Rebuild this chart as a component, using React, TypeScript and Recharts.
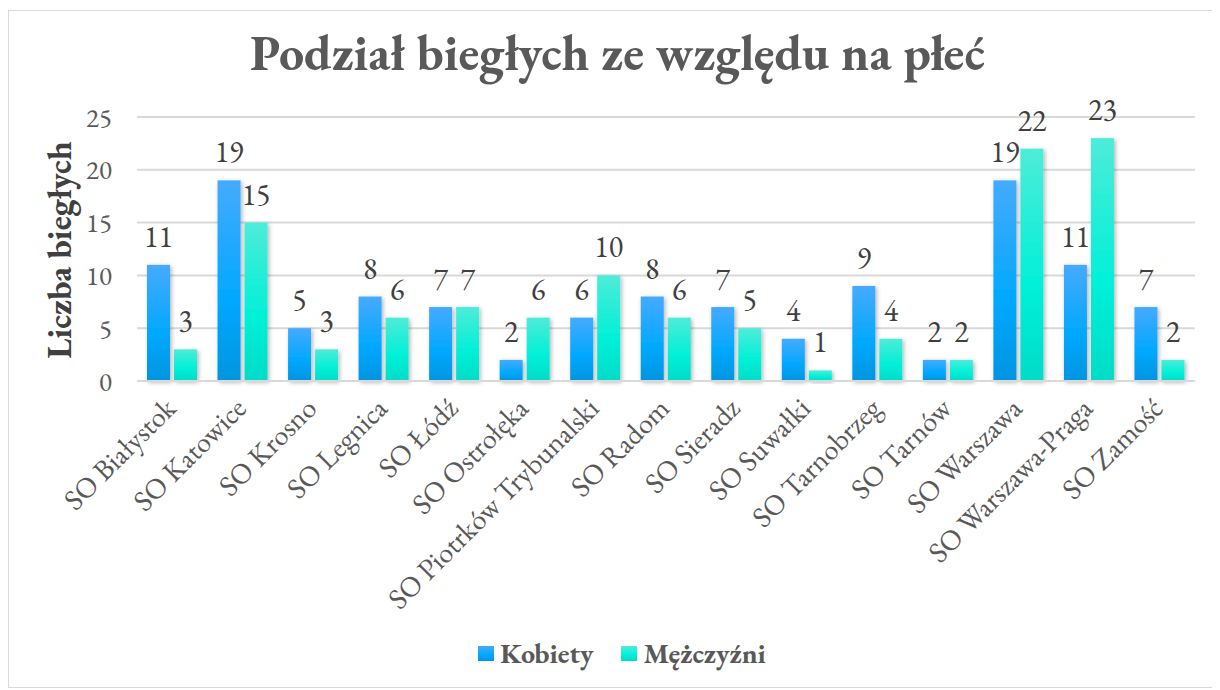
import React from 'react';
import { BarChart, Bar, XAxis, YAxis, CartesianGrid, LabelList, Legend } from 'recharts';

const FONT = '"EB Garamond", "Liberation Serif", serif';

const categories = [
  'SO Białystok',
  'SO Katowice',
  'SO Krosno',
  'SO Legnica',
  'SO Łódź',
  'SO Ostrołęka',
  'SO Piotrków Trybunalski',
  'SO Radom',
  'SO Sieradz',
  'SO Suwałki',
  'SO Tarnobrzeg',
  'SO Tarnów',
  'SO Warszawa',
  'SO Warszawa-Praga',
  'SO Zamość',
];
const kobiety = [11, 19, 5, 8, 7, 2, 6, 8, 7, 4, 9, 2, 19, 11, 7];
const mezczyzni = [3, 15, 3, 6, 7, 6, 10, 6, 5, 1, 4, 2, 22, 23, 2];
const yTicks = [0, 5, 10, 15, 20, 25];
const seriesNames = ['Kobiety', 'Mężczyźni'];
const titleText = 'Podział biegłych ze względu na płeć';
const yAxisTitle = 'Liczba biegłych';

const data = categories.map((name, i) => ({ name, k: kobiety[i], m: mezczyzni[i] }));

const XTick = (props: any) => {
  const { x, y, payload } = props;
  const ax = x + 5;
  const ay = y + 29;
  return (
    <text
      x={ax}
      y={ay}
      transform={`rotate(-45 ${ax} ${ay})`}
      textAnchor="end"
      fontSize={29}
      fill="#595959"
      fontFamily={FONT}
    >
      {payload.value}
    </text>
  );
};

const YLabel = () => (
  <text
    x={62}
    y={239}
    transform="rotate(-90 62 239)"
    textAnchor="middle"
    fontSize={34}
    fontWeight="bold"
    fill="#404040"
    fontFamily={FONT}
  >
    {yAxisTitle}
  </text>
);

const legendGradients = [
  'linear-gradient(#45aaff, #00a8ff 60%, #0095e0)',
  'linear-gradient(#4eecd8, #00f0d8 60%, #00dcc8)',
];

const renderLegend = () => (
  <div
    style={{
      display: 'flex',
      justifyContent: 'center',
      alignItems: 'center',
      height: 40,
      paddingLeft: 40,
      fontFamily: FONT,
    }}
  >
    {seriesNames.map((n, i) => (
      <div key={n} style={{ display: 'flex', alignItems: 'center', marginRight: i === 0 ? 28 : 0 }}>
        <div style={{ width: 16, height: 15, background: legendGradients[i], marginRight: 6 }} />
        <span style={{ fontSize: 28, fontWeight: 'bold', color: '#595959' }}>{n}</span>
      </div>
    ))}
  </div>
);

const BarShape = (grad: string) => (props: any) => {
  const { x, y, width, height } = props;
  if (!height || height <= 0) return null;
  return <rect x={x} y={y} width={width} height={height} fill={`url(#${grad})`} filter="url(#barShadow)" />;
};

export default function App() {
  return (
    <div
      style={{
        position: 'relative',
        marginTop: 2,
        width: 1208,
        height: 676,
        border: '1px solid #d9d9d9',
        background: '#fff',
      }}
    >
      <div
        style={{
          position: 'absolute',
          left: 0,
          top: 18,
          width: 1217,
          textAlign: 'center',
          fontFamily: FONT,
          fontWeight: 'bold',
          fontSize: 50,
          lineHeight: '48px',
          color: '#595959',
          zIndex: 2,
        }}
      >
        {titleText}
      </div>
      <BarChart
        width={1208}
        height={676}
        data={data}
        margin={{ top: 106, right: 22, left: 0, bottom: 14 }}
        barSize={23}
        barGap={4}
      >
        <defs>
          <linearGradient id="gradK" x1="0" y1="0" x2="0" y2="1">
            <stop offset="0" stopColor="#45aaff" />
            <stop offset="0.6" stopColor="#00a8ff" />
            <stop offset="1" stopColor="#0095e0" />
          </linearGradient>
          <linearGradient id="gradM" x1="0" y1="0" x2="0" y2="1">
            <stop offset="0" stopColor="#4eecd8" />
            <stop offset="0.6" stopColor="#00f0d8" />
            <stop offset="1" stopColor="#00dcc8" />
          </linearGradient>
          <filter id="barShadow" x="-30%" y="-10%" width="160%" height="130%">
            <feDropShadow dx="1.5" dy="1.5" stdDeviation="2" floodColor="#000" floodOpacity="0.3" />
          </filter>
        </defs>
        <CartesianGrid vertical={false} stroke="#d9d9d9" strokeWidth={2} />
        <XAxis
          dataKey="name"
          interval={0}
          tick={<XTick />}
          tickLine={false}
          tickSize={0}
          tickMargin={0}
          height={252}
          axisLine={{ stroke: '#d9d9d9', strokeWidth: 2 }}
        />
        <YAxis
          domain={[0, 25]}
          ticks={yTicks}
          width={128}
          axisLine={false}
          tickLine={false}
          tickSize={0}
          tickMargin={25}
          tick={{ fontSize: 27, fill: '#595959', fontFamily: FONT }}
          label={<YLabel />}
        />
        <Legend verticalAlign="bottom" height={40} content={renderLegend} />
        <Bar dataKey="k" name={seriesNames[0]} fill="#00a8ff" shape={BarShape('gradK')} isAnimationActive={false}>
          <LabelList dataKey="k" position="top" offset={18} fill="#404040" fontSize={30} fontFamily={FONT} />
        </Bar>
        <Bar dataKey="m" name={seriesNames[1]} fill="#00f0d8" shape={BarShape('gradM')} isAnimationActive={false}>
          <LabelList dataKey="m" position="top" offset={18} fill="#404040" fontSize={30} fontFamily={FONT} />
        </Bar>
      </BarChart>
    </div>
  );
}
